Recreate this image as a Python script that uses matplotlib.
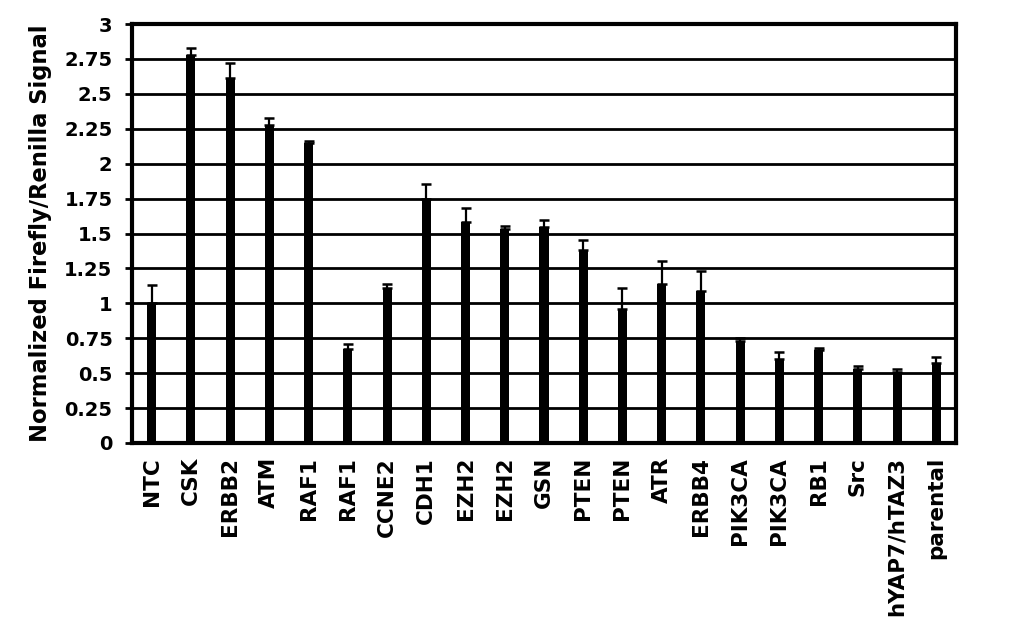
import matplotlib
matplotlib.use("Agg")
import matplotlib.pyplot as plt
import numpy as np

categories = ["NTC", "CSK", "ERBB2", "ATM", "RAF1", "RAF1", "CCNE2", "CDH1", "EZH2", "EZH2",
              "GSN", "PTEN", "PTEN", "ATR", "ERBB4", "PIK3CA", "PIK3CA", "RB1", "Src",
              "hYAP7/hTAZ3", "parental"]
values = [1.00, 2.78, 2.61, 2.28, 2.15, 0.67, 1.11, 1.75, 1.58, 1.53,
          1.55, 1.38, 0.96, 1.14, 1.09, 0.73, 0.60, 0.665, 0.53, 0.505, 0.57]
errors = [0.13, 0.05, 0.11, 0.045, 0.015, 0.04, 0.027, 0.107, 0.10, 0.024,
          0.045, 0.074, 0.15, 0.16, 0.138, 0.02, 0.052, 0.016, 0.024, 0.026, 0.045]
yticks = [0, 0.25, 0.5, 0.75, 1, 1.25, 1.5, 1.75, 2, 2.25, 2.5, 2.75, 3]
ytick_labels = ["0", "0.25", "0.5", "0.75", "1", "1.25", "1.5", "1.75", "2", "2.25", "2.5", "2.75", "3"]

plt.rcParams['font.family'] = ['DejaVu Sans']
plt.rcParams['font.weight'] = 'bold'

fig = plt.figure(figsize=(10.18, 6.37), dpi=100)
ax = fig.add_axes([132/1018, 1 - 443/637, (956-132)/1018, (443-24)/637])

x = np.arange(len(categories))
ax.bar(x, values, width=0.23, color='black', zorder=3)
ax.errorbar(x, values, yerr=[np.zeros(len(errors)), errors], fmt='none', ecolor='black',
            elinewidth=1.6, capsize=3.3, capthick=1.8, zorder=4)

ax.set_xlim(-0.5, len(categories) - 0.5)
ax.set_ylim(0, 3)
ax.set_yticks(yticks)
ax.set_yticklabels(ytick_labels, fontsize=14, fontweight='bold')
ax.set_xticks(x)
ax.set_xticklabels(categories, rotation=90, fontsize=15.5, fontweight='bold')
ax.tick_params(axis='x', length=0, pad=10)
ax.tick_params(axis='y', length=5, width=2, direction='out', pad=9)

ax.yaxis.grid(True, color='black', linewidth=2, zorder=0)
ax.set_axisbelow(True)
for s in ax.spines.values():
    s.set_linewidth(3)
    s.set_color('black')

ax.set_ylabel("Normalized Firefly/Renilla Signal", fontsize=16.3, fontweight='bold')
ax.yaxis.set_label_coords((52 - 132) / 824, 0.5)

fig.savefig("out.png", dpi=100)
